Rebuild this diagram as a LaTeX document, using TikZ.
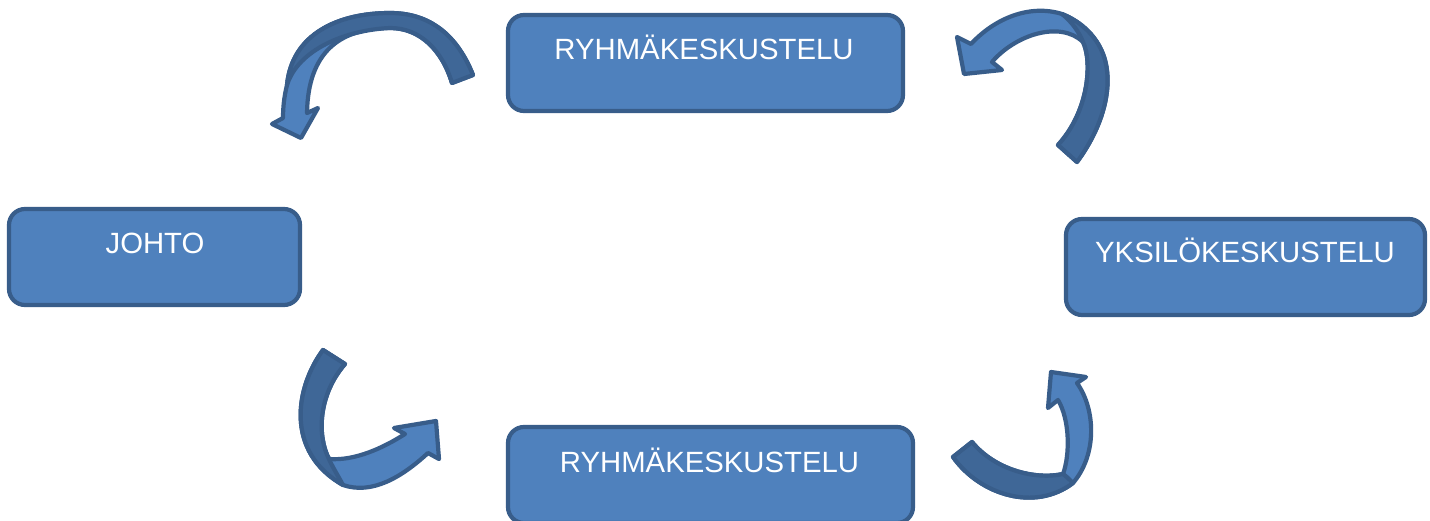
\documentclass[tikz,border=0pt]{standalone}
\usepackage{fontspec}
\setmainfont{Liberation Sans}
\definecolor{boxfill}{HTML}{4F81BD}
\definecolor{boxline}{HTML}{385D8A}
\definecolor{backfill}{HTML}{3F6797}
\begin{document}
\begin{tikzpicture}[x=1pt,y=-1pt,
  box/.style={draw=boxline, fill=boxfill, line width=4.2pt, rounded corners=16pt, inner sep=0pt},
  lbl/.style={text=white, font=\fontsize{29.3}{35}\selectfont, anchor=base, inner sep=0pt},
  front/.style={draw=boxline, fill=boxfill, line width=4.2pt, line join=round},
  back/.style={draw=boxline, fill=backfill, line width=4.2pt, line join=round}]
\fill[white] (0,0) rectangle (1430,521);
\useasboundingbox (0,0) rectangle (1430,521);
\clip (0,0) rectangle (1430,521);

% boxes
\node[box, minimum width=395pt, minimum height=96pt] (gTop) at (705.5,63) {};
\node[box, minimum width=291pt, minimum height=96pt] (lead) at (154.5,257) {};
\node[box, minimum width=359pt, minimum height=96pt] (solo) at (1245.5,267) {};
\node[box, minimum width=405pt, minimum height=96pt] (gBot) at (710.5,475) {};

\node[lbl] (gTopT) at (704,60) {RYHMÄKESKUSTELU};
\node[lbl] (leadT) at (155,254) {JOHTO};
\node[lbl] (soloT) at (1245,263) {YKSILÖKESKUSTELU};
\node[lbl] (gBotT) at (709.5,472) {RYHMÄKESKUSTELU};

% twisted curved arrow, top left
\path[front] (473,75) .. controls (455,30) and (425,13) .. (390,13)
  .. controls (338,13) and (292,34) .. (287,85)
  .. controls (284,97) and (283,108) .. (283,118)
  -- (272,124) -- (301,138) -- (318,108) -- (307,113)
  .. controls (308,52) and (340,28) .. (390,28)
  .. controls (420,28) and (442,50) .. (452,83) -- cycle;
\path[back] (473,75) .. controls (455,30) and (425,13) .. (390,13)
  .. controls (338,13) and (292,34) .. (287,85)
  .. controls (298,50) and (345,30) .. (390,28)
  .. controls (420,28) and (442,50) .. (452,83) -- cycle;

% twisted curved arrow, top right
\path[front] (1077,162) .. controls (1102,128) and (1113,90) .. (1105,60)
  .. controls (1099,38) and (1082,22) .. (1062,14)
  .. controls (1030,4) and (995,18) .. (971,44)
  -- (957,37) -- (964,74) -- (1002,70) -- (992,62)
  .. controls (1015,35) and (1060,20) .. (1083,42)
  .. controls (1092,60) and (1090,110) .. (1058,145) -- cycle;
\path[back] (1077,162) .. controls (1102,128) and (1113,90) .. (1105,60)
  .. controls (1099,38) and (1082,22) .. (1062,14)
  .. controls (1072,22) and (1079,32) .. (1083,42)
  .. controls (1092,60) and (1090,110) .. (1058,145) -- cycle;

% twisted curved arrow, bottom left
\path[front] (323,350) .. controls (295,388) and (285,452) .. (343,485)
  .. controls (372,495) and (402,477) .. (428,453)
  -- (439,459) -- (436,421) -- (394,428) -- (405,434)
  .. controls (383,448) and (355,461) .. (329,459)
  .. controls (317,436) and (318,395) .. (345,364) -- cycle;
\path[back] (323,350) .. controls (295,388) and (285,452) .. (343,485)
  .. controls (337,474) and (332,466) .. (329,459)
  .. controls (317,436) and (318,395) .. (345,364) -- cycle;

% twisted curved arrow, bottom right
\path[front] (953,457) .. controls (980,495) and (1035,512) .. (1073,483)
  .. controls (1097,455) and (1096,410) .. (1077,383)
  -- (1086,377) -- (1051,372) -- (1048,408) -- (1058,400)
  .. controls (1070,420) and (1070,455) .. (1063,474)
  .. controls (1035,480) and (995,470) .. (972,442) -- cycle;
\path[back] (953,457) .. controls (980,495) and (1035,512) .. (1073,483)
  .. controls (1069,479) and (1066,476) .. (1063,474)
  .. controls (1035,480) and (995,470) .. (972,442) -- cycle;
\end{tikzpicture}
\end{document}
